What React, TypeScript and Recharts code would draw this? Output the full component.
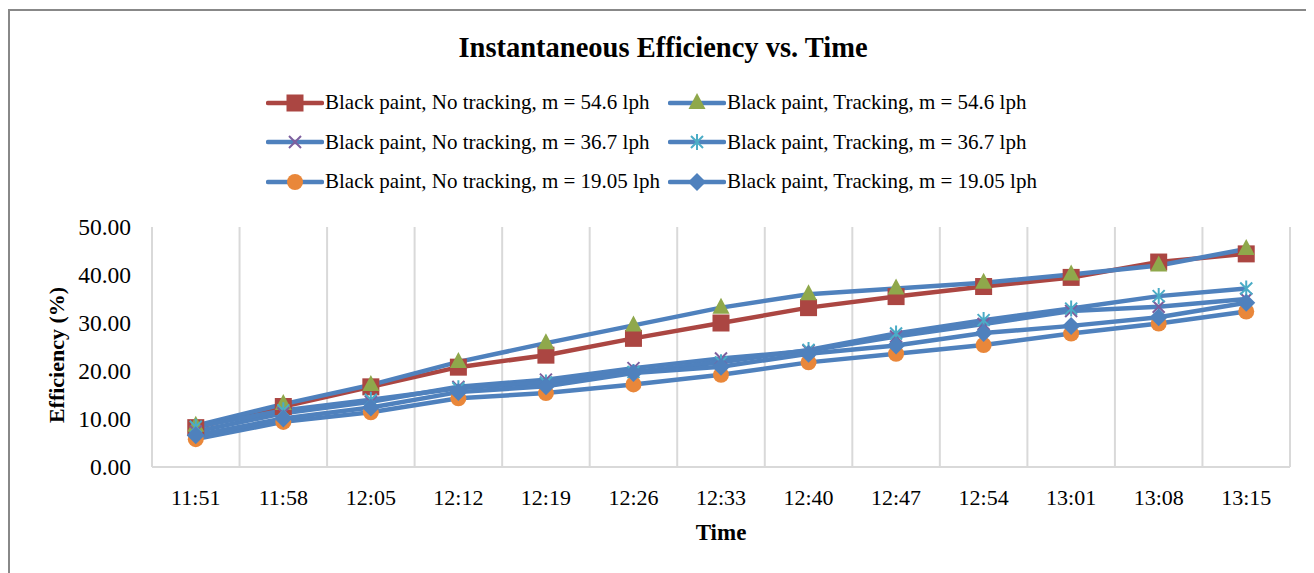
import { LineChart, Line, XAxis, YAxis, CartesianGrid, Legend } from "recharts";

// time of day on the x axis
const times = ["11:51", "11:58", "12:05", "12:12", "12:19", "12:26", "12:33", "12:40", "12:47", "12:54", "13:01", "13:08", "13:15"];

// efficiency (%) per run
const noTrack546 = [8.2, 12.6, 16.7, 20.8, 23.3, 26.8, 30.0, 33.2, 35.5, 37.6, 39.5, 42.7, 44.4];
const track546 = [8.6, 13.1, 17.1, 21.9, 25.8, 29.5, 33.2, 36.0, 37.2, 38.4, 40.1, 42.0, 45.4];
const noTrack367 = [7.4, 11.2, 13.6, 16.7, 18.2, 20.6, 22.6, 24.2, 27.2, 29.8, 32.5, 33.4, 35.0];
const track367 = [8.4, 11.8, 14.0, 16.4, 17.6, 19.8, 21.8, 24.4, 27.8, 30.6, 33.0, 35.6, 37.2];
const noTrack1905 = [5.8, 9.4, 11.4, 14.3, 15.4, 17.2, 19.2, 21.8, 23.6, 25.4, 27.8, 29.9, 32.4];
const track1905 = [6.6, 10.1, 12.4, 15.6, 16.8, 19.6, 20.9, 23.6, 25.3, 27.9, 29.4, 31.2, 34.2];

const yTicks = [0, 10, 20, 30, 40, 50];

const data = times.map((t, i) => ({
  i,
  t,
  s1: noTrack546[i],
  s2: track546[i],
  s3: noTrack367[i],
  s4: track367[i],
  s5: noTrack1905[i],
  s6: track1905[i],
}));

type Kind = "square" | "triangle" | "x" | "star" | "circle" | "diamond";

const BLUE = "#4F81BD";
const FONT = "'Liberation Serif', 'Times New Roman', serif";

const series: { key: string; name: string; stroke: string; kind: Kind; color: string }[] = [
  { key: "s1", name: "Black paint, No tracking, m = 54.6 lph", stroke: "#AB4642", kind: "square", color: "#AB4642" },
  { key: "s2", name: "Black paint, Tracking, m = 54.6 lph", stroke: BLUE, kind: "triangle", color: "#8FA84B" },
  { key: "s3", name: "Black paint, No tracking, m = 36.7 lph", stroke: BLUE, kind: "x", color: "#7D5F9E" },
  { key: "s4", name: "Black paint, Tracking, m = 36.7 lph", stroke: BLUE, kind: "star", color: "#4BACC6" },
  { key: "s5", name: "Black paint, No tracking, m = 19.05 lph", stroke: BLUE, kind: "circle", color: "#E9873A" },
  { key: "s6", name: "Black paint, Tracking, m = 19.05 lph", stroke: BLUE, kind: "diamond", color: BLUE },
];

function Marker({ kind, cx, cy, color }: { kind: Kind; cx: number; cy: number; color: string }) {
  switch (kind) {
    case "square":
      return <rect x={cx - 8.5} y={cy - 8.5} width={17} height={17} fill={color} />;
    case "triangle":
      return <polygon points={`${cx},${cy - 10} ${cx + 8.5},${cy + 6} ${cx - 8.5},${cy + 6}`} fill={color} />;
    case "x":
      return (
        <path d={`M${cx - 6},${cy - 6}L${cx + 6},${cy + 6}M${cx - 6},${cy + 6}L${cx + 6},${cy - 6}`} stroke={color} strokeWidth={2} />
      );
    case "star":
      return (
        <path
          d={`M${cx - 6},${cy - 6}L${cx + 6},${cy + 6}M${cx - 6},${cy + 6}L${cx + 6},${cy - 6}M${cx},${cy - 8}L${cx},${cy + 8}`}
          stroke={color}
          strokeWidth={2}
        />
      );
    case "circle":
      return <circle cx={cx} cy={cy} r={8} fill={color} />;
    case "diamond":
      return <polygon points={`${cx},${cy - 9} ${cx + 9},${cy} ${cx},${cy + 9} ${cx - 9},${cy}`} fill={color} />;
  }
}

function LegendBox() {
  return (
    <div
      style={{
        display: "grid",
        gridTemplateColumns: "402px 402px",
        gridAutoRows: "39.5px",
        fontFamily: FONT,
        fontSize: 21,
        color: "#000",
      }}
    >
      {series.map((s) => (
        <div key={s.key} style={{ display: "flex", alignItems: "center", whiteSpace: "nowrap" }}>
          <svg width={58} height={20} style={{ marginRight: 1 }}>
            <line x1={2} y1={10} x2={56} y2={10} stroke={s.stroke} strokeWidth={4.5} strokeLinecap="round" />
            <Marker kind={s.kind} cx={29} cy={10} color={s.color} />
          </svg>
          <span>{s.name}</span>
        </div>
      ))}
    </div>
  );
}

export default function App() {
  return (
    <div
      style={{
        position: "relative",
        width: 1306,
        height: 565,
        borderTop: "2px solid #888",
        borderLeft: "2px solid #888",
        boxSizing: "border-box",
        fontFamily: FONT,
        marginTop: 1,
      }}
    >
      <div
        style={{
          position: "absolute",
          top: 21,
          left: 0,
          width: 1306,
          textAlign: "center",
          fontSize: 28.5,
          fontWeight: "bold",
          lineHeight: "32px",
        }}
      >
        Instantaneous Efficiency vs. Time
      </div>
      <div style={{ position: "absolute", top: -3, left: -2 }}>
        <LineChart width={1306} height={565} data={data} margin={{ top: 219, right: 24, bottom: 0, left: 0 }}>
          <CartesianGrid
            horizontal={false}
            stroke="#D9D9D9"
            strokeWidth={2}
            verticalCoordinatesGenerator={({ offset }: any) =>
              times.concat([""]).map((_, k) => offset.left + (offset.width * k) / times.length)
            }
          />
          <XAxis
            dataKey="i"
            type="number"
            domain={[-0.5, times.length - 0.5]}
            ticks={times.map((_, k) => k)}
            tickFormatter={(v: number) => times[v]}
            interval={0}
            height={106}
            tickLine={false}
            tickSize={8}
            tickMargin={14}
            axisLine={{ stroke: "#D9D9D9", strokeWidth: 2 }}
            tick={{ fill: "#000", fontSize: 22, fontFamily: FONT }}
            label={({ viewBox }: any) => (
              <text
                x={viewBox.x + viewBox.width / 2}
                y={viewBox.y + 73}
                textAnchor="middle"
                fontFamily={FONT}
                fontSize={23}
                fontWeight="bold"
                fill="#000"
              >
                Time
              </text>
            )}
          />
          <YAxis
            domain={[0, 50]}
            ticks={yTicks}
            tickFormatter={(v: number) => v.toFixed(2)}
            width={144}
            axisLine={false}
            tickLine={false}
            tickSize={8}
            tickMargin={13}
            tick={{ fill: "#000", fontSize: 23.5, fontFamily: FONT }}
            label={({ viewBox }: any) => {
              const cy = viewBox.y + viewBox.height / 2 + 8;
              return (
                <text
                  x={48}
                  y={cy}
                  transform={`rotate(-90, 48, ${cy})`}
                  textAnchor="middle"
                  dominantBaseline="central"
                  fontFamily={FONT}
                  fontSize={22}
                  fontWeight="bold"
                  fill="#000"
                >
                  Efficiency (%)
                </text>
              );
            }}
          />
          <Legend
            layout="horizontal"
            verticalAlign="middle"
            align="center"
            wrapperStyle={{ top: 75, left: 258, width: 830 }}
            content={() => <LegendBox />}
          />
          {series.map((s) => (
            <Line
              key={s.key}
              dataKey={s.key}
              name={s.name}
              type="linear"
              stroke={s.stroke}
              strokeWidth={4.5}
              isAnimationActive={false}
              activeDot={false}
              dot={(p: any) => <Marker key={`${s.key}-${p.index}`} kind={s.kind} cx={p.cx} cy={p.cy} color={s.color} />}
            />
          ))}
        </LineChart>
      </div>
    </div>
  );
}
